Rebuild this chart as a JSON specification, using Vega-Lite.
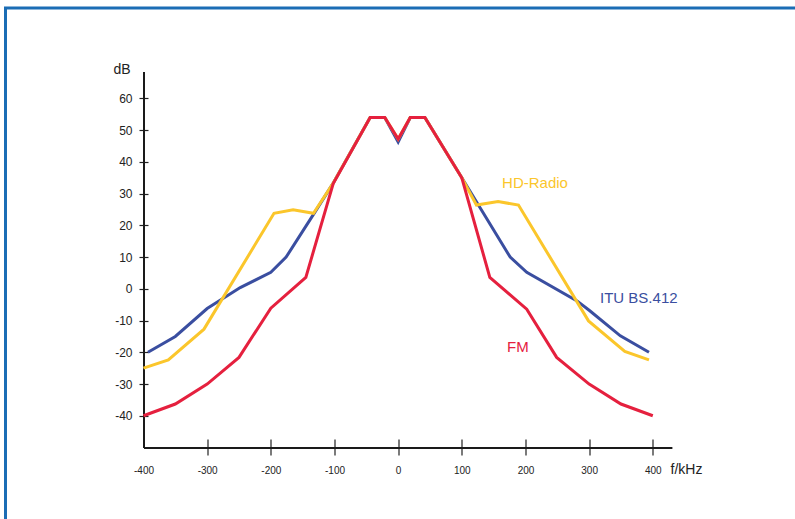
{
  "$schema": "https://vega.github.io/schema/vega-lite/v6.json",
  "width": 789.5,
  "height": 511,
  "autosize": {"type": "none"},
  "padding": {"left": 5.5, "top": 8, "right": 0, "bottom": 0},
  "background": "white",
  "config": {
    "font": "Liberation Sans",
    "axis": {"grid": false},
    "view": {"stroke": "#1b6db5", "strokeWidth": 3, "strokeDash": [789.5, 1300.5, 520, 100]}
  },
  "datasets": {
    "itu": [
      {"f": -393, "dB": -20}, {"f": -350, "dB": -15}, {"f": -300, "dB": -6.2}, {"f": -248, "dB": 0.4},
      {"f": -200, "dB": 5.2}, {"f": -176, "dB": 10}, {"f": -132, "dB": 23.8}, {"f": -103, "dB": 33},
      {"f": -44, "dB": 54}, {"f": -21, "dB": 54}, {"f": 0, "dB": 46.3}, {"f": 19, "dB": 54}, {"f": 42, "dB": 54},
      {"f": 100, "dB": 35}, {"f": 176, "dB": 10}, {"f": 202, "dB": 5.2}, {"f": 281, "dB": -3.8},
      {"f": 301, "dB": -6.9}, {"f": 349, "dB": -14.8}, {"f": 394, "dB": -20}
    ],
    "hd": [
      {"f": -400, "dB": -25}, {"f": -361, "dB": -22.4}, {"f": -305, "dB": -12.7}, {"f": -195, "dB": 23.8},
      {"f": -165, "dB": 24.9}, {"f": -133, "dB": 23.8}, {"f": -103, "dB": 33}, {"f": -44, "dB": 54},
      {"f": -21, "dB": 54}, {"f": 0, "dB": 47.2}, {"f": 19, "dB": 54}, {"f": 42, "dB": 54}, {"f": 100, "dB": 35},
      {"f": 123, "dB": 26.4}, {"f": 157, "dB": 27.5}, {"f": 189, "dB": 26.4}, {"f": 299, "dB": -10.1},
      {"f": 356, "dB": -19.7}, {"f": 394, "dB": -22.4}
    ],
    "fm": [
      {"f": -400, "dB": -40}, {"f": -350, "dB": -36.3}, {"f": -300, "dB": -30}, {"f": -250, "dB": -21.6},
      {"f": -200, "dB": -6.1}, {"f": -145, "dB": 3.6}, {"f": -102, "dB": 33.2}, {"f": -44, "dB": 54},
      {"f": -21, "dB": 54}, {"f": 0, "dB": 47.2}, {"f": 19, "dB": 54}, {"f": 42, "dB": 54}, {"f": 100, "dB": 35},
      {"f": 144, "dB": 3.6}, {"f": 202, "dB": -6.4}, {"f": 249, "dB": -21.6}, {"f": 300, "dB": -30},
      {"f": 350, "dB": -36.3}, {"f": 400, "dB": -40}
    ],
    "labels": [
      {"label": "HD-Radio", "f": 215, "dB": 33.4},
      {"label": "ITU BS.412", "f": 378, "dB": -2.9},
      {"label": "FM", "f": 188, "dB": -18.3}
    ]
  },
  "resolve": {"axis": {"x": "independent", "y": "independent"}},
  "layer": [
    {
      "data": {"name": "itu"},
      "mark": {"type": "line", "color": "#3a4ea0", "strokeWidth": 3},
      "encoding": {
        "x": {"field": "f", "type": "quantitative",
          "scale": {"domain": [-400, 430], "range": [138, 666.4], "nice": false, "zero": false},
          "axis": {"orient": "bottom", "offset": -80, "values": [-400, -300, -200, -100, 0, 100, 200, 300, 400],
            "domain": false, "tickSize": 16, "tickWidth": 1.2, "tickColor": "#222",
            "tickOpacity": {"condition": {"test": "datum.value === -400", "value": 0}, "value": 1},
            "labelExpr": "'' + datum.value",
            "labelFontSize": 10, "labelColor": "#222", "labelPadding": 10, "labelFlush": false,
            "labelOverlap": false, "labelDx": -2, "title": null}},
        "y": {"field": "dB", "type": "quantitative",
          "scale": {"domain": [-50, 68.5], "range": [439.5, 63.5], "nice": false, "zero": false},
          "axis": {"orient": "left", "offset": -142.5, "values": [-40, -30, -20, -10, 0, 10, 20, 30, 40, 50, 60],
            "domain": false, "tickSize": 9, "tickWidth": 1.2, "tickColor": "#222",
            "labelExpr": "'' + datum.value",
            "labelFontSize": 12, "labelColor": "#222", "labelPadding": 7, "labelOverlap": false,
            "labelFlush": false, "title": null}}
      }
    },
    {
      "data": {"name": "hd"},
      "mark": {"type": "line", "color": "#fbc62b", "strokeWidth": 3},
      "encoding": {
        "x": {"field": "f", "type": "quantitative", "scale": {"domain": [-400, 430], "range": [138, 666.4], "nice": false, "zero": false}, "axis": null},
        "y": {"field": "dB", "type": "quantitative", "scale": {"domain": [-50, 68.5], "range": [439.5, 63.5], "nice": false, "zero": false}, "axis": null}
      }
    },
    {
      "data": {"name": "fm"},
      "mark": {"type": "line", "color": "#e5203e", "strokeWidth": 3},
      "encoding": {
        "x": {"field": "f", "type": "quantitative", "scale": {"domain": [-400, 430], "range": [138, 666.4], "nice": false, "zero": false}, "axis": null},
        "y": {"field": "dB", "type": "quantitative", "scale": {"domain": [-50, 68.5], "range": [439.5, 63.5], "nice": false, "zero": false}, "axis": null}
      }
    },
    {
      "data": {"name": "labels"},
      "mark": {"type": "text", "fontSize": 15, "align": "center", "baseline": "middle", "font": "Liberation Sans"},
      "encoding": {
        "x": {"field": "f", "type": "quantitative", "scale": {"domain": [-400, 430], "range": [138, 666.4], "nice": false, "zero": false}, "axis": null},
        "y": {"field": "dB", "type": "quantitative", "scale": {"domain": [-50, 68.5], "range": [439.5, 63.5], "nice": false, "zero": false}, "axis": null},
        "text": {"field": "label"},
        "color": {"field": "label", "type": "nominal",
          "scale": {"domain": ["HD-Radio", "ITU BS.412", "FM"], "range": ["#fbc62b", "#3a4ea0", "#e5203e"]},
          "legend": null}
      }
    },
    {
      "mark": {"type": "point", "shape": "M-1,-0.7L0,0L-1,0.7", "size": 100, "filled": false, "stroke": "#1a1a1a", "strokeWidth": 1.8, "opacity": 1},
      "encoding": {
        "x": {"datum": 430, "type": "quantitative", "scale": {"domain": [-400, 430], "range": [138, 666.4], "nice": false, "zero": false},
          "axis": {"orient": "bottom", "offset": -71.5, "domain": true, "domainWidth": 2, "domainColor": "#1a1a1a",
            "ticks": false, "labels": false, "title": "f/kHz", "titleX": 680.5, "titleY": 21.5,
            "titleAlign": "center", "titleBaseline": "middle", "titleFontSize": 14, "titleFontWeight": "normal",
            "titleColor": "#222", "titlePadding": 0}},
        "y": {"datum": -50, "type": "quantitative", "scale": {"domain": [-50, 68.5], "range": [439.5, 63.5], "nice": false, "zero": false}, "axis": null}
      }
    },
    {
      "mark": {"type": "point", "shape": "M-0.6,1L0,0L0.6,1", "size": 196, "filled": false, "stroke": "#1a1a1a", "strokeWidth": 1.8, "opacity": 1},
      "encoding": {
        "x": {"datum": -400, "type": "quantitative", "scale": {"domain": [-400, 430], "range": [138, 666.4], "nice": false, "zero": false}, "axis": null},
        "y": {"datum": 68.5, "type": "quantitative", "scale": {"domain": [-50, 68.5], "range": [439.5, 63.5], "nice": false, "zero": false},
          "axis": {"orient": "left", "offset": -138, "domain": true, "domainWidth": 2, "domainColor": "#1a1a1a",
            "ticks": false, "labels": false, "title": "dB", "titleAngle": 0, "titleX": -22, "titleY": 61,
            "titleAlign": "center", "titleBaseline": "middle", "titleFontSize": 14, "titleFontWeight": "normal",
            "titleColor": "#222", "titlePadding": 0}}
      }
    }
  ]
}
